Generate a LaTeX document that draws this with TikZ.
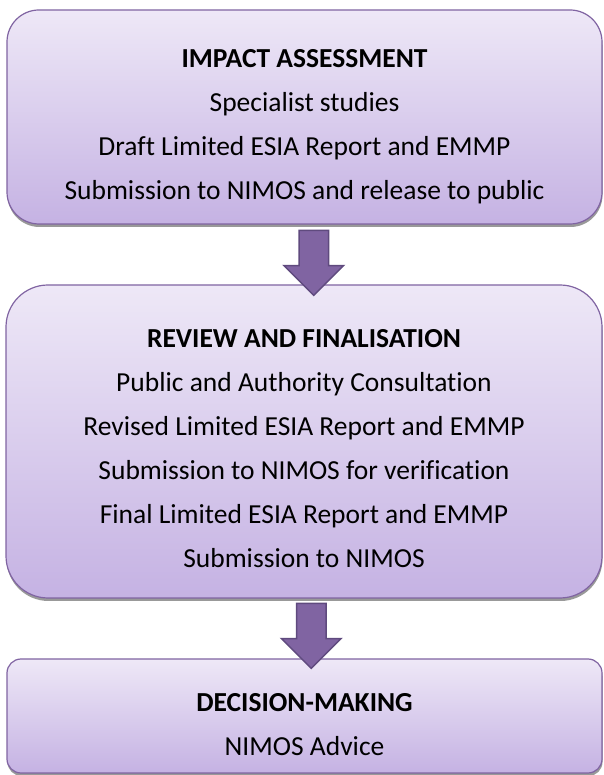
\documentclass[tikz,border=0pt]{standalone}
\usepackage{fontspec}
\setmainfont{Carlito}[Ligatures=NoCommon]
\usepackage{tikz}
\usetikzlibrary{calc,positioning,shapes.arrows,shadows}
\definecolor{stagetop}{HTML}{EEE8F7}
\definecolor{stagebot}{HTML}{C5B2E3}
\definecolor{stageline}{HTML}{8064A2}
\definecolor{flowline}{HTML}{5F4A7E}
\tikzset{stage/.style={draw=stageline, line width=1.2pt,
           top color=stagetop, bottom color=stagebot,
           rounded corners=#1, inner sep=0pt,
           drop shadow={shadow xshift=0.5pt, shadow yshift=-3pt,
                        fill=black!40, opacity=1}},
         flow/.style={single arrow, draw=flowline, line width=1.5pt,
           fill=stageline, rotate=-90, inner sep=14pt,
           single arrow head extend=15pt, minimum height=65pt}}
\tikzstyle{stagetext}=[align=center, inner sep=0pt,
   font=\fontsize{27.5}{44}\selectfont]

\begin{document}
\begin{tikzpicture}[x=1pt,y=1pt]
  \useasboundingbox (0,0) rectangle (603,775);
  % the three stages
  \node (b1) [stage=32pt, minimum width=595pt, minimum height=214pt] at (304.5,658) {};
  \node (b2) [stage=42pt, minimum width=596pt, minimum height=313pt] at (304,333.5) {};
  \node (b3) [stage=14pt, minimum width=595pt, minimum height=114pt] at (304.5,59) {};
  \node (t1) [stagetext] at ($(b1.center)+(0,-9.5)$)
    {\textbf{IMPACT ASSESSMENT}\\ Specialist studies\\
     Draft Limited ESIA Report and EMMP\\
     Submission to NIMOS and release to public};
  \node (t2) [stagetext] at ($(b2.center)+(0,-7.5)$)
    {\textbf{REVIEW AND FINALISATION}\\ Public and Authority Consultation\\
     Revised Limited ESIA Report and EMMP\\
     Submission to NIMOS for verification\\
     Final Limited ESIA Report and EMMP\\
     Submission to NIMOS};
  \node (t3) [stagetext] at ($(b3.center)+(0,-9)$)
    {\textbf{DECISION-MAKING}\\ NIMOS Advice};
  % arrows between stages
  \node (a1) [flow] at ($(b1.south)!0.5!(b2.north)+(9.5,-1)$) {};
  \node (a2) [flow] at ($(b2.south)!0.5!(b3.north)+(7,0)$) {};
\end{tikzpicture}
\end{document}
